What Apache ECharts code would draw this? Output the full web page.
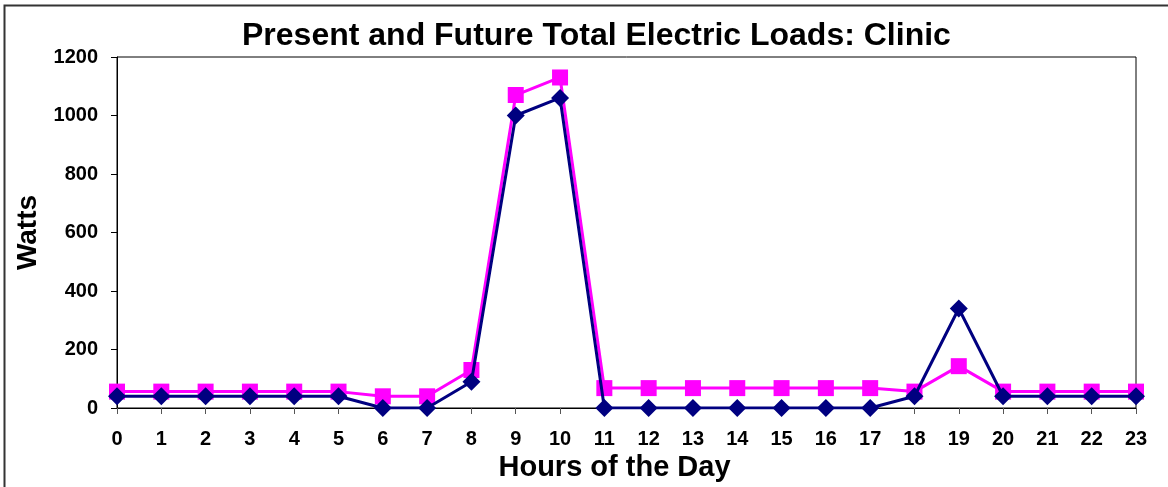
<!DOCTYPE html>
<html>
<head>
<meta charset="utf-8">
<script src="https://cdn.jsdelivr.net/npm/echarts@6/dist/echarts.min.js"></script>
<style>
  html, body { margin: 0; padding: 0; background: #fff; }
  #chart { width: 1168px; height: 487px; }
</style>
</head>
<body>
<div id="chart"></div>
<script>
const hours = ['0', '1', '2', '3', '4', '5', '6', '7', '8', '9', '10', '11',
  '12', '13', '14', '15', '16', '17', '18', '19', '20', '21', '22', '23']
// present load (navy diamonds)
const presentLoad = [40, 40, 40, 40, 40, 40, 0, 0, 90, 1000, 1060, 0,
  0, 0, 0, 0, 0, 0, 40, 340, 40, 40, 40, 40]
// future load (magenta squares)
const futureLoad = [56, 56, 56, 56, 56, 56, 40, 40, 130, 1070, 1130, 68,
  68, 68, 68, 68, 68, 68, 56, 143, 56, 56, 56, 56]
const yTicks = { min: 0, max: 1200, interval: 200 }

const chart = echarts.init(document.getElementById('chart'))
const font = 'Liberation Sans, Arial, sans-serif'

const option = {
  backgroundColor: '#fff',
  animation: false,
  title: {
    text: 'Present and Future Total Electric Loads: Clinic',
    left: 237,
    top: 15,
    textStyle: { fontFamily: font, fontSize: 32, fontWeight: 'bold', color: '#000' }
  },
  graphic: [{
    type: 'rect',
    shape: { x: 4.5, y: 5.5, width: 1200, height: 520 },
    style: { fill: 'none', stroke: '#333', lineWidth: 2 },
    silent: true
  }],
  grid: {
    left: 117, right: 32, top: 57, bottom: 79,
    outerBoundsMode: 'none',
    show: true, borderColor: '#000', borderWidth: 1
  },
  xAxis: {
    type: 'category',
    data: hours,
    boundaryGap: false,
    name: 'Hours of the Day',
    nameLocation: 'middle',
    nameGap: 38,
    nameTextStyle: {
      fontFamily: font, fontSize: 29, fontWeight: 'bold', color: '#000',
      padding: [0, 24, 0, 0]
    },
    axisLine: { lineStyle: { color: '#000', width: 1 } },
    axisTick: { alignWithLabel: true, length: 6, lineStyle: { color: '#555' } },
    axisLabel: { margin: 21, fontFamily: font, fontSize: 20, fontWeight: 'bold', color: '#000' },
    splitLine: { show: false }
  },
  yAxis: {
    type: 'value',
    min: yTicks.min, max: yTicks.max, interval: yTicks.interval,
    name: 'Watts',
    nameLocation: 'middle',
    nameGap: 74,
    nameTextStyle: { fontFamily: font, fontSize: 28, fontWeight: 'bold', color: '#000' },
    axisLine: { show: true, lineStyle: { color: '#000', width: 1 } },
    axisTick: { show: true, length: 6, lineStyle: { color: '#000' } },
    axisLabel: {
      margin: 19, fontFamily: font, fontSize: 20, fontWeight: 'bold', color: '#000',
      formatter: (v) => String(v)
    },
    splitLine: { show: false }
  },
  series: [
    {
      name: 'Present',
      type: 'line',
      data: presentLoad,
      symbol: 'diamond',
      symbolSize: 18,
      itemStyle: { color: '#000080' },
      lineStyle: { color: '#000080', width: 3 },
      z: 3
    },
    {
      name: 'Future',
      type: 'line',
      data: futureLoad,
      symbol: 'rect',
      symbolSize: 16,
      itemStyle: { color: '#ff00ff' },
      lineStyle: { color: '#ff00ff', width: 3 },
      z: 2
    }
  ]
}

chart.setOption(option)
</script>
</body>
</html>
